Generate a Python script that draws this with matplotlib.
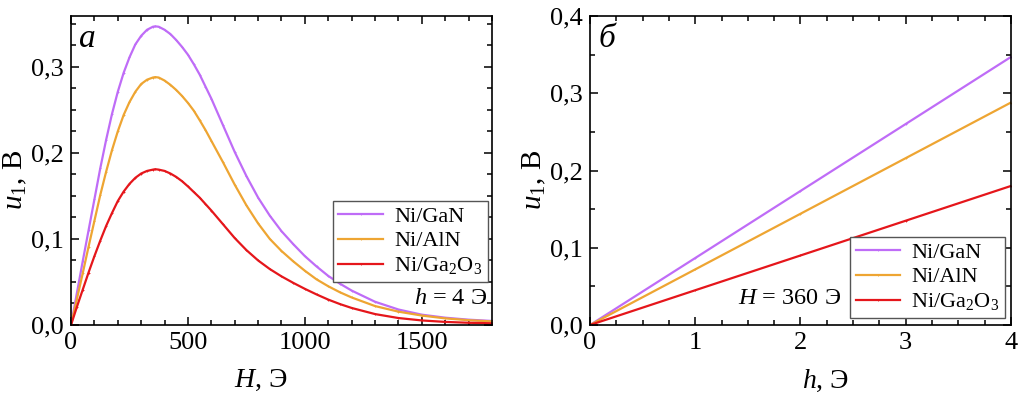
import matplotlib
matplotlib.use("Agg")
import matplotlib.pyplot as plt
from matplotlib.ticker import MultipleLocator, FuncFormatter

plt.rcParams['font.family'] = ['Liberation Serif', 'DejaVu Serif']
plt.rcParams['mathtext.fontset'] = 'custom'
plt.rcParams['mathtext.rm'] = 'Liberation Serif'
plt.rcParams['mathtext.it'] = 'Liberation Serif:italic'
plt.rcParams['mathtext.bf'] = 'Liberation Serif:bold'

# panel a: u1 vs H at h = 4 Oe
H = [0, 25, 50, 75, 100, 125, 150, 175, 200, 225, 250, 275, 300, 325, 350, 360,
     375, 400, 425, 450, 475, 500, 525, 550, 575, 600, 650, 700, 750, 800, 850,
     900, 950, 1000, 1050, 1100, 1150, 1200, 1300, 1400, 1500, 1600, 1700, 1800]
u_gan = [0, 0.037, 0.074, 0.110, 0.146, 0.182, 0.215, 0.245, 0.271, 0.293, 0.311,
         0.326, 0.336, 0.343, 0.3465, 0.347, 0.3465, 0.343, 0.338, 0.331, 0.323,
         0.314, 0.303, 0.291, 0.277, 0.263, 0.232, 0.201, 0.173, 0.148, 0.127,
         0.109, 0.094, 0.080, 0.068, 0.057, 0.048, 0.040, 0.027, 0.018, 0.012,
         0.0085, 0.0062, 0.0047]
u_aln = [0, 0.030, 0.060, 0.091, 0.121, 0.151, 0.178, 0.203, 0.225, 0.244, 0.259,
         0.271, 0.280, 0.285, 0.2875, 0.288, 0.2875, 0.284, 0.279, 0.273, 0.266,
         0.258, 0.249, 0.238, 0.2265, 0.214, 0.189, 0.163, 0.139, 0.118, 0.100,
         0.086, 0.074, 0.063, 0.053, 0.045, 0.038, 0.032, 0.022, 0.0155, 0.011,
         0.0077, 0.0056, 0.0042]
u_ga2o3 = [0, 0.021, 0.041, 0.061, 0.080, 0.098, 0.115, 0.130, 0.144, 0.155, 0.164,
           0.171, 0.176, 0.179, 0.1805, 0.181, 0.1805, 0.179, 0.176, 0.172, 0.167,
           0.161, 0.1545, 0.148, 0.1405, 0.133, 0.117, 0.101, 0.087, 0.075, 0.065,
           0.0565, 0.049, 0.042, 0.0355, 0.0295, 0.0243, 0.0198, 0.0127, 0.0081,
           0.0053, 0.0036, 0.0026, 0.002]

# panel b: u1 vs h at H = 360 Oe
h = [0, 1, 2, 3, 4]
v_gan = [0, 0.0867, 0.1735, 0.2602, 0.347]
v_aln = [0, 0.072, 0.144, 0.216, 0.288]
v_ga2o3 = [0, 0.045, 0.090, 0.135, 0.180]

labels = ['Ni/GaN', 'Ni/AlN', r'Ni/Ga$_2$O$_3$']
colors = ['#bf6cf7', '#eea532', '#e5161b']

comma = FuncFormatter(lambda v, p: f"{v:.1f}".replace('.', ','))

fig = plt.figure(figsize=(10.19, 3.98), dpi=100)
ax1 = fig.add_axes([0.0697, 0.1834, 0.4131, 0.7764])
ax2 = fig.add_axes([0.579, 0.1834, 0.4131, 0.7764])

for y, c, lab in zip([u_gan, u_aln, u_ga2o3], colors, labels):
    ax1.plot(H, y, color=c, lw=1.6, marker='+', ms=2, mew=0.6, label=lab)
for y, c, lab in zip([v_gan, v_aln, v_ga2o3], colors, labels):
    ax2.plot(h, y, color=c, lw=1.6, marker='+', ms=2, mew=0.6, label=lab)

ax1.set_xlim(0, 1800)
ax1.set_ylim(0, 0.359)
ax1.xaxis.set_major_locator(MultipleLocator(500))
ax1.xaxis.set_minor_locator(MultipleLocator(100))
ax1.yaxis.set_major_locator(MultipleLocator(0.1))
ax1.yaxis.set_minor_locator(MultipleLocator(0.025))

ax2.set_xlim(0, 4)
ax2.set_ylim(0, 0.4)
ax2.xaxis.set_major_locator(MultipleLocator(1))
ax2.xaxis.set_minor_locator(MultipleLocator(0.25))
ax2.yaxis.set_major_locator(MultipleLocator(0.1))
ax2.yaxis.set_minor_locator(MultipleLocator(0.05))

legend_pos = [(0.99, 0.139), (0.986, 0.023)]
for ax, pos in zip((ax1, ax2), legend_pos):
    ax.yaxis.set_major_formatter(comma)
    ax.tick_params(which='both', direction='in', top=True, right=True, width=1.1)
    ax.tick_params(which='major', length=6, labelsize=19, pad=5)
    ax.tick_params(which='minor', length=3.5)
    for s in ax.spines.values():
        s.set_linewidth(1.2)
    ax.set_ylabel(r'$u_{\mathit{1}}$, В', fontsize=21)
    ax.yaxis.set_label_coords(-0.10, 0.47)
    ax.legend(loc='lower right', bbox_to_anchor=pos,
              fontsize=16, frameon=True, fancybox=False, edgecolor='#555555',
              framealpha=1, handlelength=2.0, handletextpad=0.5, numpoints=1,
              borderpad=0.25, labelspacing=0.18, borderaxespad=0)

ax1.set_xlabel(r'$H$, Э', fontsize=20)
ax2.set_xlabel(r'$h$, Э', fontsize=20)
ax1.xaxis.set_label_coords(0.45, -0.14)
ax2.xaxis.set_label_coords(0.56, -0.14)

ax1.text(0.02, 0.975, 'а', transform=ax1.transAxes, fontsize=24, style='italic',
         ha='left', va='top')
ax2.text(0.02, 0.975, 'б', transform=ax2.transAxes, fontsize=24, style='italic',
         ha='left', va='top')
ax1.text(0.988, 0.087, r'$h$ = 4 Э', transform=ax1.transAxes, fontsize=17.5,
         ha='right', va='center')
ax2.text(0.475, 0.087, r'$H$ = 360 Э', transform=ax2.transAxes, fontsize=17.5,
         ha='center', va='center')

fig.savefig('out.png', dpi=100)
